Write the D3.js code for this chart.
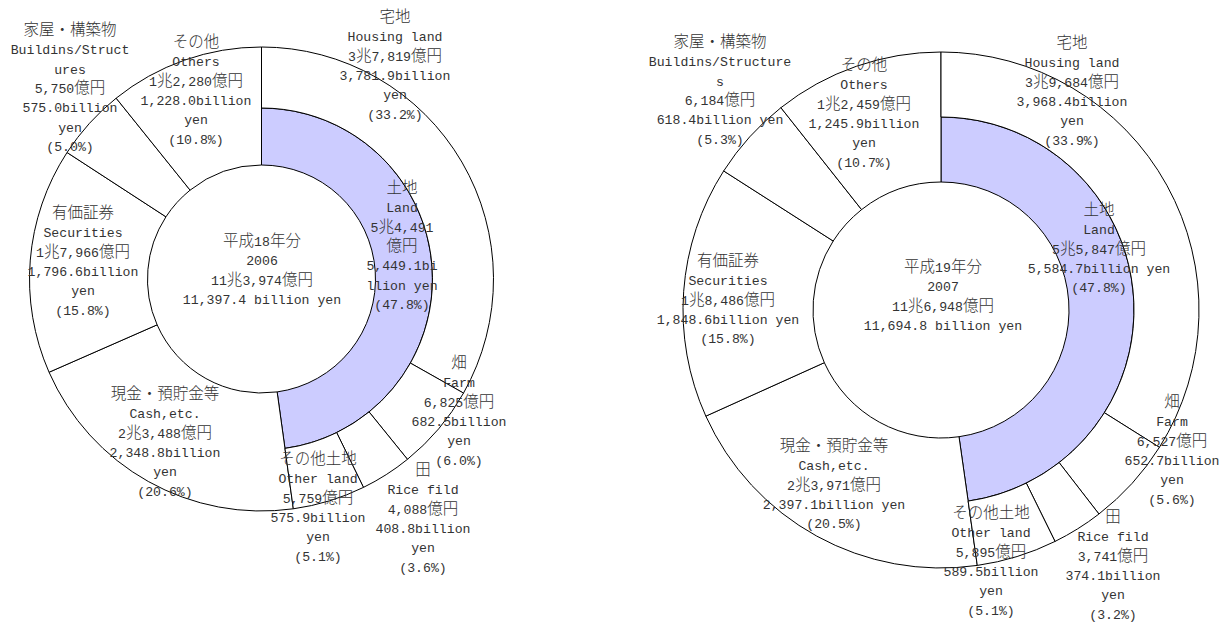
<!DOCTYPE html>
<html>
<head>
<meta charset="utf-8">
<script src="https://cdn.jsdelivr.net/npm/d3@7"></script>
<style>
  body { margin: 0; background: #fff; }
  .lat { font-family: "Liberation Mono", monospace; font-size: 13.2px; }
  .cjk { font-family: "Noto Sans CJK JP", sans-serif; font-size: 15.5px; font-weight: 300; }
</style>
</head>
<body>
<div id="chart"></div>
<script>
// values in 億円 (100 million yen)
const eraLabels = ["平成18年分", "平成19年分"];
const yearLabels = ["2006", "2007"];
const totals = [113974, 116948];

const mainCats = ["土地", "現金・預貯金等", "有価証券", "家屋・構築物", "その他"];
const mainCatsEn = ["Land", "Cash,etc.", "Securities", "Buildins/Structures", "Others"];
const main2006 = [54491, 23488, 17966, 5750, 12280];
const main2007 = [55847, 23971, 18486, 6184, 12459];
const mainPct2006 = [47.8, 20.6, 15.8, 5.0, 10.8];
const mainPct2007 = [47.8, 20.5, 15.8, 5.3, 10.7];

const landCats = ["宅地", "畑", "田", "その他土地"];
const landCatsEn = ["Housing land", "Farm", "Rice fild", "Other land"];
const land2006 = [37819, 6825, 4088, 5759];
const land2007 = [39684, 6527, 3741, 5895];
const landPct2006 = [33.2, 6.0, 3.6, 5.1];
const landPct2007 = [33.9, 5.6, 3.2, 5.1];

// layout of the two donuts
const chartLayout = [
  { cx: 261.5, cy: 279, r0: 114, r1: 171, r2: 232 },
  { cx: 941, cy: 310, r0: 128, r1: 193, r2: 258 }
];
// label anchors [x, y of first line, wrap width in half-width chars]
// order: main cats, land cats, centre
const labelLayout = [
  [[402, 188, 9], [165, 394, 14], [83, 213, 14], [70, 30, 15], [196, 42, 14],
   [395, 17, 14], [459, 363, 12], [423, 470, 12], [318, 459, 12], [262, 241, 30]],
  [[1099, 210, 20], [834, 446, 20], [728, 261, 20], [720, 42, 18], [864, 65, 14],
   [1072, 43, 14], [1172, 402, 12], [1113, 517, 12], [991, 513, 12], [943, 267, 30]]
];
const lineH = 19.3;

const charts = [
  { era: eraLabels[0], year: yearLabels[0], total: totals[0], main: main2006, mainPct: mainPct2006, land: land2006, landPct: landPct2006 },
  { era: eraLabels[1], year: yearLabels[1], total: totals[1], main: main2007, mainPct: mainPct2007, land: land2007, landPct: landPct2007 }
];

const fmtComma = d3.format(",");
const fmtBil = d3.format(",.1f");
const fmtPct = d3.format(".1f");
const fmtOku = v => {
  const cho = Math.floor(v / 10000), rest = v % 10000;
  return (cho ? cho + "兆" : "") + fmtComma(rest) + "億円";
};

const isWide = ch => ch.charCodeAt(0) >= 0x2E80;
const units = s => Array.from(s).reduce((a, ch) => a + (isWide(ch) ? 2 : 1), 0);

// wrap like the spreadsheet text box: words first, then characters
function wrap(str, w) {
  const lines = [];
  let cur = "";
  for (const word of str.split(" ")) {
    const cand = cur ? cur + " " + word : word;
    if (units(cand) <= w) { cur = cand; continue; }
    if (cur) { lines.push(cur); cur = ""; }
    let piece = "";
    for (const ch of word) {
      if (units(piece + ch) > w) { lines.push(piece); piece = ch; }
      else piece += ch;
    }
    cur = piece;
  }
  if (cur) lines.push(cur);
  return lines;
}

const svg = d3.select("#chart").append("svg")
  .attr("width", 1224).attr("height", 622)
  .style("display", "block");

function drawLabel(g, parts, pos) {
  const lines = parts.flatMap(p => wrap(p, pos[2]));
  lines.forEach((line, i) => {
    const t = g.append("text")
      .attr("x", pos[0])
      .attr("y", pos[1] + i * lineH + 5)
      .attr("text-anchor", "middle")
      .attr("fill", "#333");
    // split into runs of half-width / full-width characters
    const runs = [];
    for (const ch of line) {
      const c = isWide(ch) ? "cjk" : "lat";
      if (runs.length && runs[runs.length - 1].c === c) runs[runs.length - 1].s += ch;
      else runs.push({ c: c, s: ch });
    }
    runs.forEach(r => t.append("tspan").attr("class", r.c).attr("xml:space", "preserve").text(r.s));
  });
}

charts.forEach((ch, k) => {
  const L = chartLayout[k];
  const g = svg.append("g");
  const rings = g.append("g").attr("transform", "translate(" + L.cx + "," + L.cy + ")");

  const pie = d3.pie().sort(null).value(d => d);
  const mainArcs = pie(ch.main);

  // main categories: land only fills the inner band
  rings.selectAll("path.main").data(mainArcs).join("path")
    .attr("class", "main")
    .attr("d", (d, i) => d3.arc().innerRadius(L.r0).outerRadius(i === 0 ? L.r1 : L.r2)(d))
    .attr("fill", (d, i) => i === 0 ? "#ccccff" : "#fff")
    .attr("stroke", "#000").attr("stroke-width", 1);

  // land breakdown in the outer band
  const landArcs = d3.pie().sort(null).value(d => d)
    .startAngle(mainArcs[0].startAngle).endAngle(mainArcs[0].endAngle)(ch.land);
  rings.selectAll("path.land").data(landArcs).join("path")
    .attr("class", "land")
    .attr("d", d3.arc().innerRadius(L.r1).outerRadius(L.r2))
    .attr("fill", "#fff")
    .attr("stroke", "#000").attr("stroke-width", 1);

  const labels = g.append("g");
  const pos = labelLayout[k];
  ch.main.forEach((v, i) => {
    drawLabel(labels, [mainCats[i], mainCatsEn[i], fmtOku(v), fmtBil(v / 10) + "billion yen", "(" + fmtPct(ch.mainPct[i]) + "%)"], pos[i]);
  });
  ch.land.forEach((v, i) => {
    drawLabel(labels, [landCats[i], landCatsEn[i], fmtOku(v), fmtBil(v / 10) + "billion yen", "(" + fmtPct(ch.landPct[i]) + "%)"], pos[5 + i]);
  });
  drawLabel(labels, [ch.era, ch.year, fmtOku(ch.total), fmtBil(ch.total / 10) + " billion yen"], pos[9]);
});
</script>
</body>
</html>
